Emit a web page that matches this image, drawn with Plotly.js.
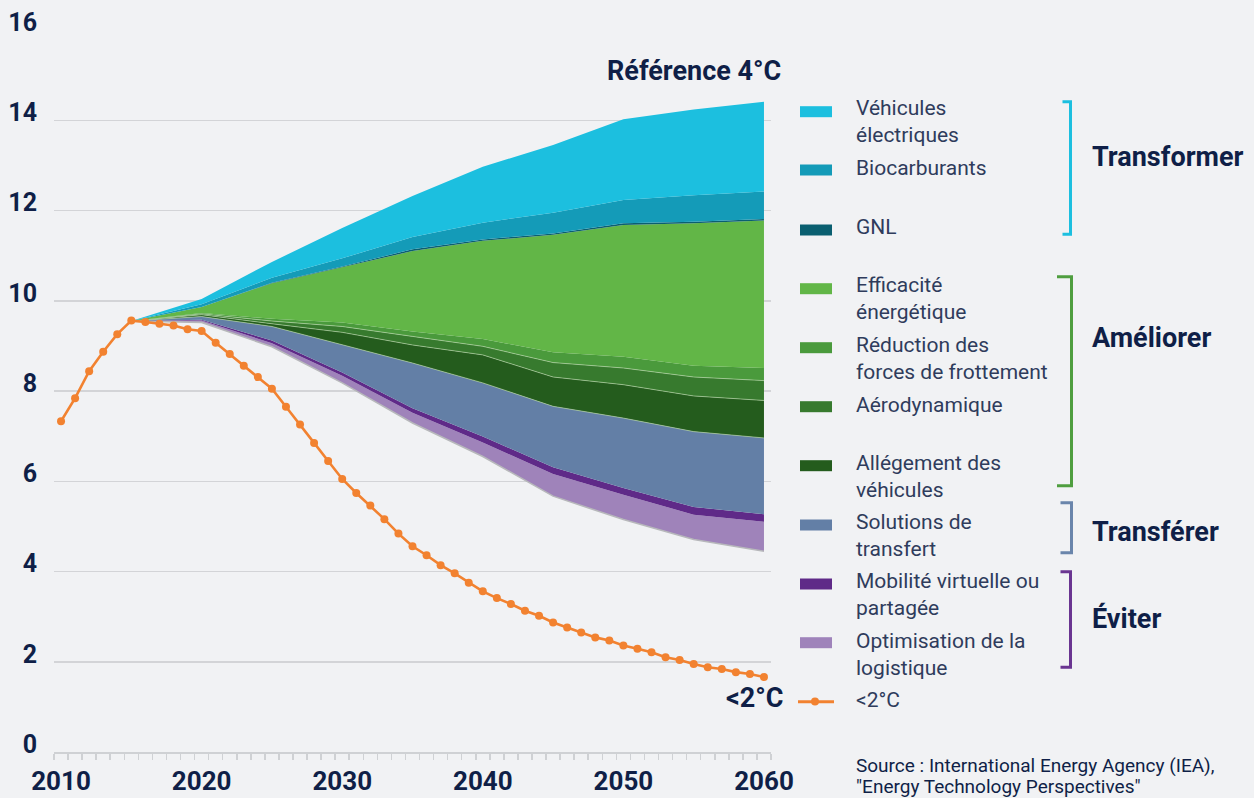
<!DOCTYPE html>
<html>
<head>
<meta charset="utf-8">
<script src="https://cdn.plot.ly/plotly-3.0.1.min.js"></script>
<style>
  html, body { margin: 0; padding: 0; background: #f1f2f4; }
  #chart { width: 1254px; height: 798px; }
</style>
</head>
<body>
<div id="chart"></div>
<script>
// ---------- DATA ----------
const lineYears = [2010,2011,2012,2013,2014,2015,2016,2017,2018,2019,2020,2021,2022,2023,2024,2025,2026,2027,2028,2029,2030,2031,2032,2033,2034,2035,2036,2037,2038,2039,2040,2041,2042,2043,2044,2045,2046,2047,2048,2049,2050,2051,2052,2053,2054,2055,2056,2057,2058,2059,2060];
const below2C = [7.33,7.84,8.44,8.87,9.26,9.56,9.53,9.49,9.45,9.37,9.33,9.07,8.82,8.56,8.31,8.05,7.65,7.26,6.85,6.45,6.05,5.74,5.46,5.16,4.84,4.56,4.36,4.14,3.96,3.75,3.56,3.41,3.28,3.13,3.02,2.87,2.76,2.65,2.54,2.47,2.36,2.29,2.21,2.10,2.04,1.95,1.88,1.84,1.77,1.73,1.66];

const stackYears = [2015,2020,2025,2030,2035,2040,2045,2050,2055,2060];
const remaining      = [9.55,9.52,8.98,8.18,7.29,6.55,5.67,5.15,4.71,4.45];
const optimisation   = [0,0.04,0.08,0.16,0.23,0.31,0.49,0.55,0.55,0.65];
const mobilite       = [0,0.02,0.06,0.07,0.10,0.13,0.15,0.15,0.17,0.17];
const transfert      = [0,0.07,0.31,0.61,1.00,1.19,1.35,1.55,1.67,1.69];
const allegement     = [0,0.04,0.06,0.28,0.40,0.62,0.65,0.74,0.79,0.83];
const aerodynamique  = [0,0.02,0.06,0.13,0.19,0.19,0.32,0.37,0.42,0.44];
const frottement     = [0,0.02,0.05,0.09,0.11,0.16,0.23,0.25,0.25,0.28];
const efficacite     = [0,0.13,0.79,1.23,1.78,2.18,2.60,2.92,3.16,3.27];
const gnl            = [0,0,0.01,0.01,0.04,0.03,0.03,0.04,0.03,0.03];
const biocarburants  = [0,0.06,0.11,0.18,0.27,0.37,0.46,0.51,0.59,0.61];
const electriques    = [0,0.12,0.35,0.67,0.91,1.24,1.50,1.79,1.90,1.99];

const seriesNames = ["Optimisation de la<br>logistique","Mobilité virtuelle ou<br>partagée","Solutions de<br>transfert","Allégement des<br>véhicules","Aérodynamique","Réduction des<br>forces de frottement","Efficacité<br>énergétique","GNL","Biocarburants","Véhicules<br>électriques"];
const seriesColors = ["#9f83ba","#5f2a88","#637fa6","#245c1d","#377a2e","#4a9a3c","#62b647","#0a5f70","#149bb8","#1cbfdf"];
const seriesValues = [optimisation, mobilite, transfert, allegement, aerodynamique, frottement, efficacite, gnl, biocarburants, electriques];

const xTickVals = [2010,2020,2030,2040,2050,2060];
const xTickText = ["2010","2020","2030","2040","2050","2060"];
const yTickVals = [0,2,4,6,8,10,12,14,16];

const groups = [
  {label:"Transformer", color:"#1cbfdf"},
  {label:"Améliorer", color:"#4f9e3f"},
  {label:"Transférer", color:"#6a85ab"},
  {label:"Éviter", color:"#6a3591"}
];
const sourceLines = ["Source : International Energy Agency (IEA),", "\"Energy Technology Perspectives\""];

// ---------- LAYOUT HELPERS ----------
const W = 1254, H = 798;
const M = {l:54, r:483, t:30, b:46};
const PW = W - M.l - M.r, PH = H - M.t - M.b;
const PX = px => (px - M.l) / PW;
const PY = py => (H - M.b - py) / PH;

const NAVY = "#0f1f47";
const TXT = "#2f3c5c";
const FONT = "Roboto, 'Open Sans', sans-serif";

// ---------- TRACES ----------
const traces = [];
traces.push({
  x: stackYears, y: remaining, type:"scatter", mode:"lines", stackgroup:"one",
  fillcolor:"rgba(0,0,0,0)", line:{color:"#b7b8bb", width:1.6}, hoverinfo:"skip", showlegend:false
});
const sepLines = {3:true,4:true,5:true};
seriesValues.forEach((vals, i) => {
  traces.push({
    x: stackYears, y: vals, type:"scatter", mode:"lines", stackgroup:"one",
    name: seriesNames[i], fillcolor: seriesColors[i],
    line: sepLines[i+1] ? {color:"rgba(190,220,175,0.75)", width:0.8} : {color:seriesColors[i], width:0},
    showlegend:false
  });
});
traces.push({
  x: lineYears, y: below2C, type:"scatter", mode:"lines+markers", name:"<2°C",
  line:{color:"#f28230", width:2.6}, marker:{color:"#f28230", size:8}, showlegend:false
});

// ---------- LEGEND (manual) ----------
const shapes = [];
const annotations = [];
const legendItems = [
  {i:9, sw:111.7, ty:121.5},
  {i:8, sw:170, ty:168},
  {i:7, sw:230, ty:227},
  {i:6, sw:288.7, ty:298},
  {i:5, sw:347.7, ty:358.5},
  {i:4, sw:406.7, ty:405},
  {i:3, sw:465.7, ty:476},
  {i:2, sw:525, ty:535},
  {i:1, sw:584, ty:594},
  {i:0, sw:642.7, ty:654}
];
legendItems.forEach(it => {
  shapes.push({type:"rect", xref:"paper", yref:"paper",
    x0:PX(800), x1:PX(832), y0:PY(it.sw+5.5), y1:PY(it.sw-5.5),
    fillcolor:seriesColors[it.i], line:{width:0}});
  annotations.push({xref:"paper", yref:"paper", x:PX(854), y:PY(it.ty), xanchor:"left", yanchor:"middle",
    text:seriesNames[it.i], showarrow:false, align:"left",
    font:{family:FONT, size:21, color:TXT}});
});
// <2°C legend entry
shapes.push({type:"line", xref:"paper", yref:"paper", x0:PX(798), x1:PX(834), y0:PY(701.7), y1:PY(701.7),
  line:{color:"#f28230", width:3}});
shapes.push({type:"circle", xref:"paper", yref:"paper", x0:PX(811), x1:PX(819), y0:PY(697.5), y1:PY(705.5),
  fillcolor:"#f28230", line:{width:0}});
annotations.push({xref:"paper", yref:"paper", x:PX(854), y:PY(700), xanchor:"left", yanchor:"middle",
  text:"<2°C", showarrow:false, font:{family:FONT, size:21, color:TXT}});

// brackets
const brackets = [
  {g:0, x:1070.5, xt:1062.5, y0:101.7, y1:234.3, ly:156.7},
  {g:1, x:1071.5, xt:1057, y0:276.7, y1:485.7, ly:338.3},
  {g:2, x:1071.5, xt:1060.5, y0:502.7, y1:552.7, ly:531.7},
  {g:3, x:1070.5, xt:1060.5, y0:571.7, y1:667.3, ly:618.3}
];
brackets.forEach(b => {
  const c = groups[b.g].color;
  shapes.push({type:"path", xref:"paper", yref:"paper",
    path:`M ${PX(b.xt)} ${PY(b.y0)} L ${PX(b.x)} ${PY(b.y0)} L ${PX(b.x)} ${PY(b.y1)} L ${PX(b.xt)} ${PY(b.y1)}`,
    line:{color:c, width:3}});
  annotations.push({xref:"paper", yref:"paper", x:PX(1090), y:PY(b.ly), xanchor:"left", yanchor:"middle",
    text:"<b>"+groups[b.g].label+"</b>", showarrow:false, font:{family:FONT, size:27, color:NAVY}});
});

// chart labels
annotations.push({xref:"paper", yref:"paper", x:PX(783), y:PY(71), xanchor:"right", yanchor:"middle",
  text:"<b>Référence 4°C</b>", showarrow:false, font:{family:FONT, size:27, color:NAVY}});
annotations.push({xref:"paper", yref:"paper", x:PX(785), y:PY(698), xanchor:"right", yanchor:"middle",
  text:"<b><2°C</b>", showarrow:false, font:{family:FONT, size:27, color:NAVY}});
// source
annotations.push({xref:"paper", yref:"paper", x:PX(854), y:PY(765), xanchor:"left", yanchor:"middle",
  text:sourceLines[0], showarrow:false, align:"left", font:{family:FONT, size:19, color:NAVY}});
annotations.push({xref:"paper", yref:"paper", x:PX(854), y:PY(786), xanchor:"left", yanchor:"middle",
  text:sourceLines[1], showarrow:false, align:"left", font:{family:FONT, size:19, color:NAVY}});

const layout = {
  width: W, height: H,
  margin: M,
  paper_bgcolor:"#f1f2f4", plot_bgcolor:"#f1f2f4",
  font:{family:FONT, color:NAVY},
  showlegend:false,
  xaxis:{
    range:[2009.5, 2060.5], tickvals:xTickVals, ticktext:xTickText,
    showgrid:false, zeroline:false, showline:true, linecolor:"#cfd1d4", linewidth:2,
    ticks:"", ticklabelstandoff:5,
    minor:{tick0:2009.5, dtick:1, ticks:"outside", ticklen:6, tickcolor:"#cfd1d4", tickwidth:1.5, showgrid:false},
    tickfont:{family:FONT, size:26, color:NAVY, weight:"bold"}, fixedrange:true
  },
  yaxis:{
    range:[0,16], tickvals:yTickVals, showgrid:true, gridcolor:"#d3d4d7", gridwidth:1.5,
    zeroline:false, showline:false, ticks:"", ticklabelstandoff:16, ticklabelshift:-8,
    tickfont:{family:FONT, size:25, color:NAVY, weight:"bold"}, fixedrange:true
  },
  shapes: shapes,
  annotations: annotations
};

Plotly.newPlot("chart", traces, layout, {displayModeBar:false, staticPlot:true});
</script>
</body>
</html>
